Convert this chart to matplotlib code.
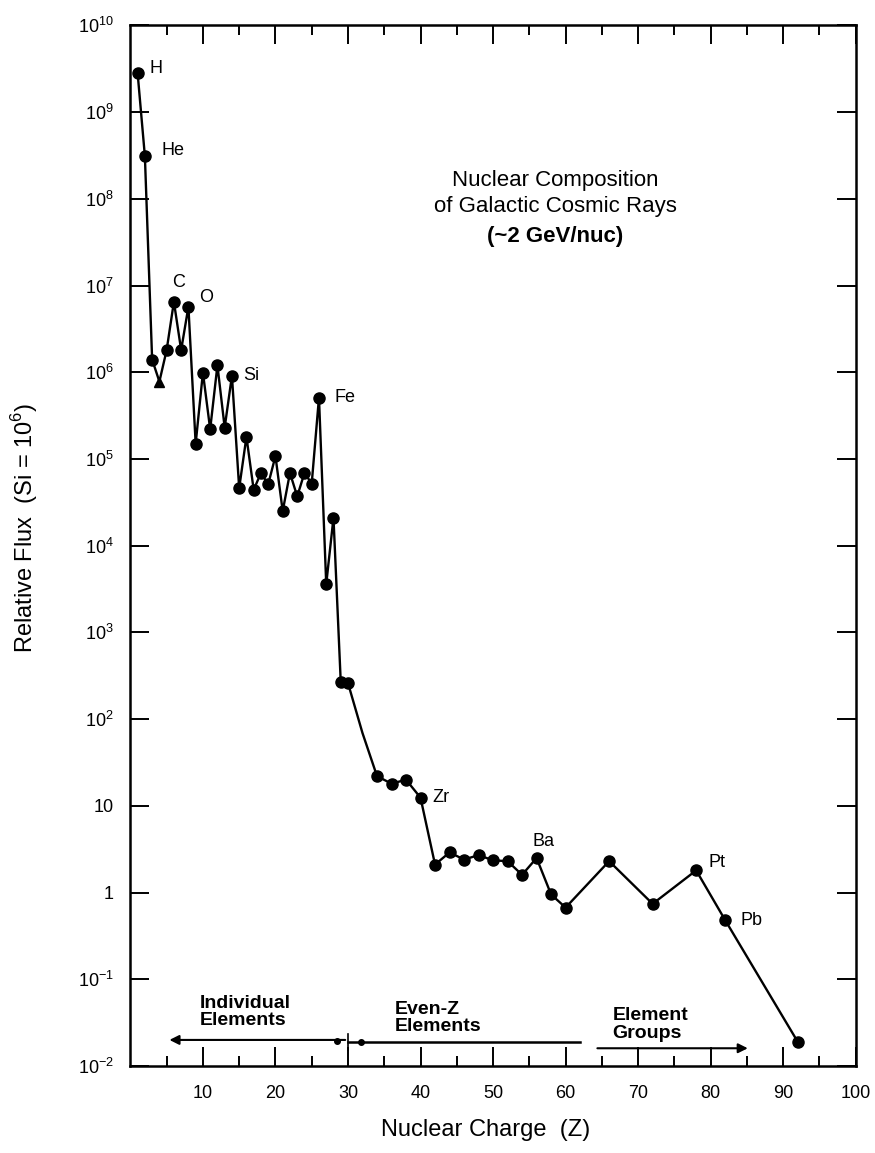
import matplotlib.pyplot as plt
import matplotlib.transforms as mtransforms
from matplotlib.ticker import FixedLocator, NullLocator

# nuclear charge and relative flux (Si = 10^6)
Z = [1, 2, 3, 4, 5, 6, 7, 8, 9, 10, 11, 12, 13, 14, 15, 16, 17, 18, 19, 20,
     21, 22, 23, 24, 25, 26, 27, 28, 29, 30, 32, 34, 36, 38, 40, 42, 44, 46,
     48, 50, 52, 54, 56, 58, 60, 66, 72, 78, 82, 92]
flux = [2.8e9, 3.1e8, 1.4e6, 7.8e5, 1.8e6, 6.5e6, 1.8e6, 5.7e6, 1.5e5, 9.9e5,
        2.2e5, 1.2e6, 2.3e5, 9.1e5, 4.6e4, 1.8e5, 4.4e4, 6.9e4, 5.1e4, 1.08e5,
        2.5e4, 6.9e4, 3.7e4, 6.9e4, 5.2e4, 5.1e5, 3.6e3, 2.1e4, 2.7e2, 2.6e2,
        69, 22, 18, 20, 12.4, 2.1, 2.9, 2.4, 2.7, 2.35,
        2.3, 1.6, 2.5, 0.95, 0.67, 2.3, 0.74, 1.8, 0.48, 0.019]
triangle_z = [4]        # Be drawn as triangle
no_marker_z = [32]      # bend in the line, no point

# element labels: name, Z, offset in pixels
labels = [('H', 1, (12, 5)), ('He', 2, (17, 6)), ('C', 6, (-2, 19)),
          ('O', 8, (11, 9)), ('Si', 14, (11, 0)), ('Fe', 26, (16, 0)),
          ('Zr', 40, (12, 0)), ('Ba', 56, (-4, 17)), ('Pt', 78, (12, 8)),
          ('Pb', 82, (15, 0))]

# element ranges along the bottom
groups = ['Individual\nElements', 'Even-Z\nElements', 'Element\nGroups']
group_text_x = [9.5, 36.5, 66.5]
group_text_y = [0.052, 0.046, 0.040]
group_span = [(30, 5), (30, 62), (64, 85.5)]
group_line_y = [0.025, 0.023, 0.017]

ytick_vals = [10.0 ** k for k in range(-2, 11)]
ytick_labels = ['10$^{-2}$', '10$^{-1}$', '1', '10'] + \
               ['10$^{%d}$' % k for k in range(2, 11)]
xtick_vals = [10, 20, 30, 40, 50, 60, 70, 80, 90, 100]

plt.rcParams['font.family'] = ['Liberation Sans', 'DejaVu Sans']
plt.rcParams['mathtext.fontset'] = 'custom'
plt.rcParams['mathtext.rm'] = 'Liberation Sans'

fig = plt.figure(figsize=(8.75, 11.53), dpi=100)
ax = fig.add_axes([0.149, 0.0755, 0.829, 0.9025])

ax.plot(Z, flux, color='black', lw=1.7, zorder=2)
cz = [z for z in Z if z not in triangle_z + no_marker_z]
cf = [f for z, f in zip(Z, flux) if z not in triangle_z + no_marker_z]
ax.plot(cz, cf, 'o', color='black', ms=8, zorder=3)
tz = [z for z in Z if z in triangle_z]
tf = [f for z, f in zip(Z, flux) if z in triangle_z]
ax.plot(tz, tf, '^', color='black', ms=7, zorder=3)

for name, z, off in labels:
    ax.annotate(name, xy=(z, flux[Z.index(z)]), xytext=off,
                textcoords='offset pixels', fontsize=13,
                ha='left', va='center')

ax.set_yscale('log')
ax.set_ylim(1e-2, 1e10)
ax.set_xlim(0, 100)
ax.yaxis.set_major_locator(FixedLocator(ytick_vals))
ax.yaxis.set_minor_locator(NullLocator())
ax.set_yticklabels(ytick_labels)
ax.set_xticks(xtick_vals)
ax.set_xticklabels([str(v) for v in xtick_vals])
ax.xaxis.set_minor_locator(FixedLocator([v - 5 for v in xtick_vals]))

ax.tick_params(which='major', direction='in', top=True, right=True,
               length=14, width=1.4, labelsize=13, pad=12)
ax.tick_params(which='minor', direction='in', top=True, right=True,
               length=7, width=1.4)
ax.tick_params(axis='x', which='major', pad=14)
for s in ax.spines.values():
    s.set_linewidth(1.8)

ax.set_ylabel('Relative Flux  (Si = 10$^6$)', fontsize=17)
ax.yaxis.set_label_coords(-0.125, 0.517)
ax.set_xlabel('Nuclear Charge  (Z)', fontsize=17)
ax.xaxis.set_label_coords(0.49, -0.062)
ax.xaxis.label.set_va('center')

ax.text(0.586, 0.851, 'Nuclear Composition', transform=ax.transAxes,
        ha='center', va='center', fontsize=16)
ax.text(0.586, 0.826, 'of Galactic Cosmic Rays', transform=ax.transAxes,
        ha='center', va='center', fontsize=16)
ax.text(0.586, 0.797, '(~2 GeV/nuc)', transform=ax.transAxes,
        ha='center', va='center', fontsize=16, fontweight='bold')

trans = mtransforms.blended_transform_factory(ax.transData, ax.transAxes)
for txt, tx, ty in zip(groups, group_text_x, group_text_y):
    ax.text(tx, ty, txt, transform=trans, ha='left', va='center',
            fontsize=14, fontweight='bold', linespacing=1.05)

# Individual elements: arrow to the left
(a0, a1), yl = group_span[0], group_line_y[0]
ax.annotate('', xy=(a1, yl), xytext=(a0, yl), xycoords=trans, textcoords=trans,
            arrowprops=dict(arrowstyle='-|>', color='black', lw=1.5,
                            mutation_scale=14))
# Even-Z elements: plain line
(b0, b1), yl = group_span[1], group_line_y[1]
ax.plot([b0, b1], [yl, yl], color='black', lw=1.8, transform=trans)
ax.plot([b0, b0], [yl - 0.008, yl + 0.008], color='black', lw=1.2,
        transform=trans)
ax.plot([b0 - 1.5, b0 + 1.8], [yl + 0.001, yl], 'o', color='black', ms=4,
        transform=trans)
# Element groups: arrow to the right
(c0, c1), yl = group_span[2], group_line_y[2]
ax.annotate('', xy=(c1, yl), xytext=(c0, yl), xycoords=trans, textcoords=trans,
            arrowprops=dict(arrowstyle='-|>', color='black', lw=1.5,
                            mutation_scale=14))

fig.savefig('out.png', dpi=100)
